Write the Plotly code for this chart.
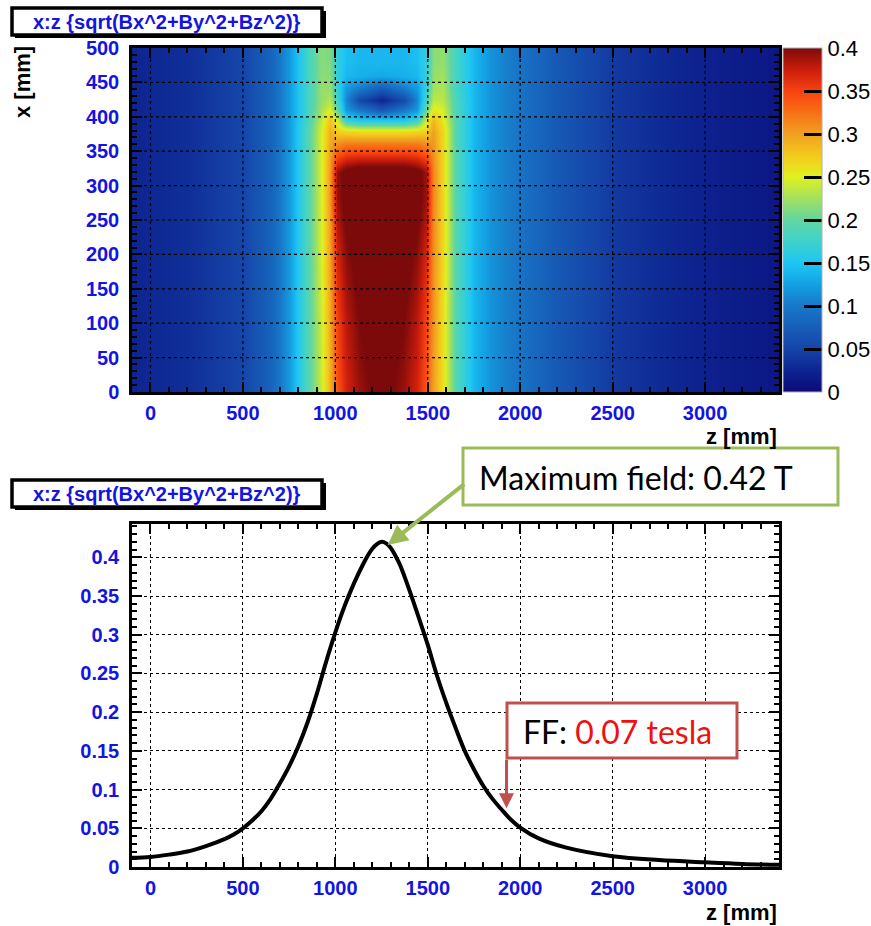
import plotly.graph_objects as go

W, H = 871, 926

# ---------------- data ----------------
# 2D map: |B| (tesla) on a grid of z (columns, mm) and x (rows, mm)
heat_z_mm = [-100, 200, 500, 650, 750, 850, 920, 970, 1010, 1060, 1130, 1250, 1370,
             1440, 1490, 1530, 1580, 1650, 1750, 1850, 2000, 2200, 2500, 2800, 3100, 3400]
heat_x_mm = [0, 100, 200, 280, 320, 340, 360, 380, 395, 410, 425, 440, 460, 480, 500]
heat_B = [
    [0.025, 0.033, 0.052, 0.080, 0.120, 0.190, 0.240, 0.290, 0.340, 0.370, 0.390, 0.410, 0.390, 0.370, 0.340, 0.300, 0.260, 0.190, 0.140, 0.115, 0.095, 0.070, 0.042, 0.028, 0.019, 0.012],
    [0.025, 0.033, 0.052, 0.080, 0.120, 0.190, 0.240, 0.295, 0.350, 0.380, 0.400, 0.420, 0.400, 0.380, 0.350, 0.305, 0.260, 0.190, 0.140, 0.115, 0.095, 0.070, 0.042, 0.028, 0.019, 0.012],
    [0.025, 0.033, 0.052, 0.080, 0.120, 0.190, 0.245, 0.300, 0.370, 0.395, 0.410, 0.430, 0.410, 0.395, 0.370, 0.310, 0.265, 0.190, 0.140, 0.115, 0.095, 0.070, 0.042, 0.028, 0.019, 0.012],
    [0.025, 0.033, 0.052, 0.080, 0.120, 0.190, 0.245, 0.305, 0.390, 0.410, 0.420, 0.430, 0.420, 0.410, 0.390, 0.315, 0.265, 0.190, 0.140, 0.115, 0.095, 0.070, 0.042, 0.028, 0.019, 0.012],
    [0.025, 0.033, 0.052, 0.080, 0.120, 0.190, 0.245, 0.305, 0.390, 0.410, 0.420, 0.420, 0.420, 0.410, 0.390, 0.315, 0.265, 0.190, 0.140, 0.115, 0.095, 0.070, 0.042, 0.028, 0.019, 0.012],
    [0.025, 0.033, 0.052, 0.080, 0.120, 0.190, 0.245, 0.300, 0.350, 0.365, 0.370, 0.370, 0.370, 0.365, 0.350, 0.310, 0.265, 0.190, 0.140, 0.115, 0.095, 0.070, 0.042, 0.028, 0.019, 0.012],
    [0.025, 0.033, 0.052, 0.080, 0.120, 0.190, 0.245, 0.295, 0.310, 0.320, 0.320, 0.320, 0.320, 0.320, 0.310, 0.305, 0.265, 0.190, 0.140, 0.115, 0.095, 0.070, 0.042, 0.028, 0.019, 0.012],
    [0.025, 0.033, 0.052, 0.080, 0.120, 0.190, 0.245, 0.290, 0.270, 0.265, 0.260, 0.260, 0.260, 0.265, 0.270, 0.300, 0.265, 0.190, 0.140, 0.115, 0.095, 0.070, 0.042, 0.028, 0.019, 0.012],
    [0.025, 0.033, 0.052, 0.080, 0.120, 0.185, 0.235, 0.280, 0.245, 0.170, 0.150, 0.150, 0.150, 0.170, 0.245, 0.285, 0.255, 0.190, 0.140, 0.115, 0.095, 0.070, 0.042, 0.028, 0.019, 0.012],
    [0.025, 0.033, 0.052, 0.080, 0.120, 0.180, 0.225, 0.250, 0.200, 0.120, 0.100, 0.070, 0.100, 0.120, 0.200, 0.255, 0.245, 0.185, 0.140, 0.115, 0.095, 0.070, 0.042, 0.028, 0.019, 0.012],
    [0.025, 0.033, 0.052, 0.080, 0.120, 0.180, 0.220, 0.230, 0.180, 0.110, 0.055, 0.025, 0.055, 0.110, 0.180, 0.235, 0.235, 0.185, 0.140, 0.115, 0.095, 0.070, 0.042, 0.028, 0.019, 0.012],
    [0.025, 0.033, 0.052, 0.080, 0.120, 0.180, 0.220, 0.220, 0.170, 0.120, 0.100, 0.070, 0.100, 0.120, 0.170, 0.225, 0.230, 0.180, 0.140, 0.115, 0.095, 0.070, 0.042, 0.028, 0.019, 0.012],
    [0.025, 0.033, 0.052, 0.080, 0.120, 0.180, 0.215, 0.215, 0.165, 0.140, 0.135, 0.130, 0.135, 0.140, 0.165, 0.220, 0.225, 0.180, 0.140, 0.115, 0.095, 0.070, 0.042, 0.028, 0.019, 0.012],
    [0.025, 0.033, 0.052, 0.080, 0.120, 0.180, 0.215, 0.210, 0.165, 0.145, 0.140, 0.140, 0.140, 0.145, 0.165, 0.215, 0.220, 0.180, 0.140, 0.115, 0.095, 0.070, 0.042, 0.028, 0.019, 0.012],
    [0.025, 0.033, 0.052, 0.080, 0.120, 0.180, 0.215, 0.210, 0.165, 0.145, 0.140, 0.140, 0.140, 0.145, 0.165, 0.215, 0.220, 0.180, 0.140, 0.115, 0.095, 0.070, 0.042, 0.028, 0.019, 0.012],
]

# 1D profile along z: |B| (tesla)
curve_z = [-100, 0, 100, 200, 300, 400, 450, 500, 550, 600, 650, 700, 750, 800, 850,
           900, 950, 1000, 1050, 1100, 1150, 1175, 1200, 1225, 1250, 1275, 1300, 1325,
           1350, 1400, 1450, 1500, 1550, 1600, 1650, 1700, 1750, 1800, 1850, 1900, 1950,
           2000, 2100, 2250, 2500, 2750, 3000, 3200, 3400]
curve_B = [0.012, 0.013, 0.016, 0.020, 0.027, 0.036, 0.042, 0.050, 0.060, 0.072, 0.088,
           0.108, 0.130, 0.156, 0.187, 0.224, 0.265, 0.303, 0.337, 0.366, 0.391, 0.402,
           0.411, 0.417, 0.420, 0.418, 0.412, 0.402, 0.390, 0.358, 0.323, 0.287, 0.247,
           0.212, 0.180, 0.150, 0.126, 0.105, 0.088, 0.074, 0.061, 0.051, 0.037, 0.025,
           0.014, 0.009, 0.006, 0.004, 0.003]

z_ticks = [0, 500, 1000, 1500, 2000, 2500, 3000]
x_ticks = [0, 50, 100, 150, 200, 250, 300, 350, 400, 450, 500]
b_ticks = [0, 0.05, 0.1, 0.15, 0.2, 0.25, 0.3, 0.35, 0.4]
b_tick_text = ["0", "0.05", "0.1", "0.15", "0.2", "0.25", "0.3", "0.35", "0.4"]

title_text = "x:z {sqrt(Bx^2+By^2+Bz^2)}"
max_label = "Maximum field: 0.42 T"
max_point = (1283, 0.416)
ff_label_a = "FF: "
ff_label_b = "0.07 tesla"
ff_point = (1926, 0.076)

# ---------------- helpers (pixel -> paper) ----------------
def px(x):
    return x / W

def py(y):
    return 1 - y / H

BLUE = "#1414e0"
jet = [
    [0.0, "#0b0b78"], [0.06, "#0d2390"], [0.125, "#1544a8"], [0.25, "#1878c8"],
    [0.32, "#12a6e6"], [0.375, "#1fc6f2"], [0.45, "#44d4c4"], [0.5, "#62d6a0"],
    [0.56, "#a0e060"], [0.625, "#e0f020"], [0.69, "#f4c81c"], [0.75, "#f0a020"],
    [0.82, "#f86a14"], [0.875, "#f84210"], [0.94, "#c81c0c"], [1.0, "#7c0a0a"],
]

fig = go.Figure()

fig.add_trace(go.Heatmap(
    x=heat_z_mm, y=heat_x_mm, z=heat_B, zsmooth="best", zmin=0, zmax=0.4,
    colorscale=jet, xaxis="x", yaxis="y", hoverinfo="skip",
    colorbar=dict(
        x=px(783), xanchor="left", y=py(392), yanchor="bottom",
        len=(392 - 48) / H, lenmode="fraction", thickness=39, thicknessmode="pixels",
        xpad=0, ypad=0, outlinewidth=1, outlinecolor="#b0b0b0",
        ticks="inside", ticklen=18, tickwidth=3, tickcolor="black",
        tickvals=b_ticks, ticktext=b_tick_text,
        tickfont=dict(family="Liberation Sans", size=22, color="black"),
    ),
))

fig.add_trace(go.Scatter(
    x=curve_z, y=curve_B, mode="lines", xaxis="x2", yaxis="y2",
    line=dict(color="black", width=4, shape="spline", smoothing=1),
    hoverinfo="skip", showlegend=False,
))

tickfont = dict(family="Liberation Sans", size=20, color=BLUE, weight="bold")
common = dict(
    showline=True, linecolor="black", linewidth=2.5, mirror="ticks",
    ticks="inside", ticklen=10, tickwidth=2, tickcolor="black",
    tickfont=tickfont, zeroline=False, automargin=False,
    fixedrange=True,
)
grid = dict(showgrid=True, gridcolor="black", gridwidth=1, griddash="dot")
xstand = dict(ticklabelstandoff=1)
ystand = dict(ticklabelstandoff=6)

fig.update_layout(
    width=W, height=H, margin=dict(l=0, r=0, t=0, b=0, autoexpand=False),
    paper_bgcolor="white", plot_bgcolor="white", showlegend=False,
    xaxis=dict(domain=[px(132), px(779)], range=[-100, 3400], anchor="y",
               tickvals=z_ticks, showgrid=False,
               minor=dict(dtick=100, tick0=0, ticks="inside", ticklen=5, tickwidth=1.5, tickcolor="black"),
               **xstand, **common),
    yaxis=dict(domain=[py(392), py(48)], range=[0, 500], anchor="x",
               tickvals=x_ticks, showgrid=False,
               minor=dict(dtick=10, tick0=0, ticks="inside", ticklen=5, tickwidth=1.5, tickcolor="black"),
               **ystand, **common),
    xaxis2=dict(domain=[px(132), px(779)], range=[-100, 3400], anchor="y2",
                tickvals=z_ticks,
                minor=dict(dtick=100, tick0=0, ticks="inside", ticklen=5, tickwidth=1.5, tickcolor="black"),
                **grid, **xstand, **common),
    yaxis2=dict(domain=[py(867), py(524)], range=[0, 0.443], anchor="x2",
                tickvals=b_ticks, ticktext=b_tick_text,
                minor=dict(dtick=0.01, tick0=0, ticks="inside", ticklen=5, tickwidth=1.5, tickcolor="black"),
                **grid, **ystand, **common),
)

shapes = []
# dotted grid drawn above the heatmap
for zt in z_ticks:
    shapes.append(dict(type="line", xref="x", yref="y", x0=zt, x1=zt, y0=0, y1=500,
                       line=dict(color="black", width=1.2, dash="dot"), layer="above"))
for xt in x_ticks[1:-1]:
    shapes.append(dict(type="line", xref="x", yref="y", x0=-100, x1=3400, y0=xt, y1=xt,
                       line=dict(color="black", width=1.2, dash="dot"), layer="above"))

# title boxes (ROOT style)
for top in (8, 480):
    shapes.append(dict(type="rect", xref="paper", yref="paper",
                       x0=px(15), x1=px(326), y0=py(top + 30), y1=py(top + 3),
                       fillcolor="black", line=dict(width=0)))
    shapes.append(dict(type="rect", xref="paper", yref="paper",
                       x0=px(12), x1=px(322), y0=py(top + 27), y1=py(top),
                       fillcolor="white", line=dict(color="black", width=3.5)))

# callout boxes
shapes.append(dict(type="rect", xref="paper", yref="paper",
                   x0=px(463), x1=px(838), y0=py(505), y1=py(448),
                   fillcolor="white", line=dict(color="#9bbb59", width=3)))
shapes.append(dict(type="rect", xref="paper", yref="paper",
                   x0=px(507), x1=px(737), y0=py(758), y1=py(703),
                   fillcolor="white", line=dict(color="#c0504d", width=3)))
fig.update_layout(shapes=shapes)

ann = []
for top in (8, 480):
    ann.append(dict(xref="paper", yref="paper", x=px(167), y=py(top + 14), text=title_text,
                    showarrow=False, xanchor="center", yanchor="middle",
                    font=dict(family="Liberation Sans", size=20, color=BLUE, weight="bold")))

label_font = dict(family="Liberation Sans", size=22, color="black", weight="bold")
ann.append(dict(xref="paper", yref="paper", x=px(23), y=py(82), text="x [mm]", textangle=-90,
                showarrow=False, xanchor="center", yanchor="middle", font=label_font))
ann.append(dict(xref="paper", yref="paper", x=px(779), y=py(437), text="z [mm]",
                showarrow=False, xanchor="right", yanchor="middle", font=label_font))
ann.append(dict(xref="paper", yref="paper", x=px(779), y=py(912), text="z [mm]",
                showarrow=False, xanchor="right", yanchor="middle", font=label_font))

callout_font = dict(family="Lato", size=32, color="black")
ann.append(dict(xref="paper", yref="paper", x=px(477), y=py(477), text=max_label,
                showarrow=False, xanchor="left", yanchor="middle", font=callout_font))
ann.append(dict(xref="paper", yref="paper", x=px(521), y=py(731),
                text=ff_label_a + "<span style='color:#ee1111'>" + ff_label_b + "</span>",
                showarrow=False, xanchor="left", yanchor="middle", font=callout_font))

# arrows
ann.append(dict(xref="x2", yref="y2", x=max_point[0], y=max_point[1], text="",
                showarrow=True, ax=78, ay=-62, arrowhead=2, arrowsize=1, arrowwidth=4,
                arrowcolor="#9bbb59", standoff=0))
ann.append(dict(xref="x2", yref="y2", x=ff_point[0], y=ff_point[1], text="",
                showarrow=True, ax=0, ay=-50, arrowhead=2, arrowsize=1, arrowwidth=3,
                arrowcolor="#c0504d", standoff=0))
fig.update_layout(annotations=ann)

fig.write_html("out.html")
